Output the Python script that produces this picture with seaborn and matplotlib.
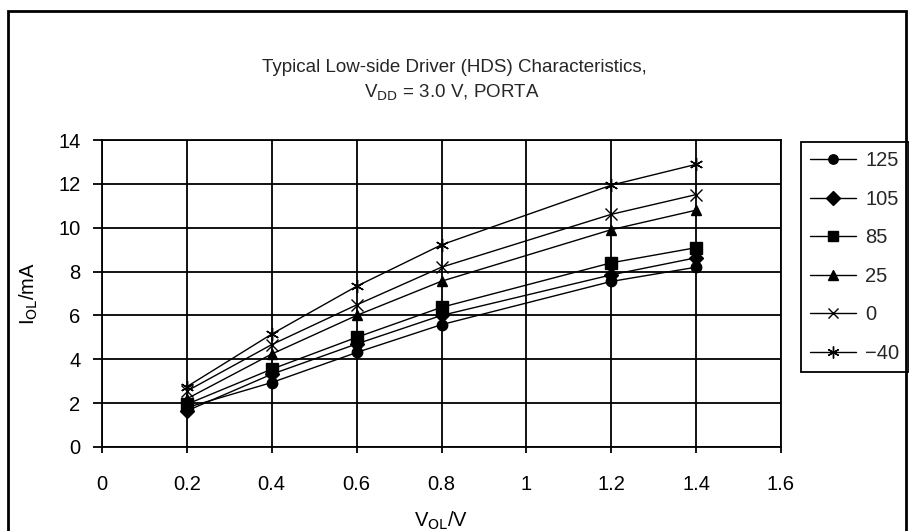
import numpy as np
import pandas as pd
import seaborn as sns
import matplotlib.pyplot as plt
from matplotlib.patches import Rectangle

# === Data ===
v_ol = [0.2, 0.4, 0.6, 0.8, 1.2, 1.4]
temps = ["125", "105", "85", "25", "0", "\u221240"]
i_125 = [1.80, 2.94, 4.31, 5.58, 7.55, 8.20]
i_105 = [1.65, 3.32, 4.70, 6.00, 7.85, 8.63]
i_85 = [1.95, 3.55, 5.00, 6.37, 8.40, 9.09]
i_25 = [2.20, 4.24, 6.00, 7.56, 9.91, 10.80]
i_0 = [2.55, 4.67, 6.48, 8.20, 10.61, 11.51]
i_m40 = [2.75, 5.15, 7.33, 9.22, 11.94, 12.89]

series = [i_125, i_105, i_85, i_25, i_0, i_m40]
df = pd.DataFrame({
    "V_OL": np.tile(v_ol, len(temps)),
    "I_OL": np.concatenate(series),
    "Temp": np.repeat(temps, len(v_ol)),
})

# === Style ===
sns.set_theme(style="white")
plt.rcParams["font.family"] = ["Liberation Sans", "DejaVu Sans"]
FS = 14.5

fig = plt.figure(figsize=(9.09, 5.31), dpi=100)
ax = fig.add_axes([102 / 909, 1 - 447 / 531, (781 - 102) / 909, (447 - 140) / 531])

markers = {"125": "o", "105": "D", "85": "s", "25": "^", "0": "x", "\u221240": (6, 2, 0)}
sizes = {"125": 7.5, "105": 7.5, "85": 8.5, "25": 7.5, "0": 8.5, "\u221240": 9.5}

# seaborn refuses to mix filled and line markers in one call, so one call per series
for t in temps:
    sns.lineplot(
        data=df[df["Temp"] == t], x="V_OL", y="I_OL", label=t,
        color="black", marker=markers[t], markersize=sizes[t],
        markeredgecolor="black", markeredgewidth=1.0,
        linewidth=1.0, ax=ax,
    )

# === Axes ===
ax.set_xlim(0, 1.6)
ax.set_ylim(0, 14)
ax.set_xticks(np.arange(0, 1.61, 0.2))
ax.set_xticklabels(["0", "0.2", "0.4", "0.6", "0.8", "1", "1.2", "1.4", "1.6"])
ax.set_yticks(np.arange(0, 15, 2))
ax.grid(True, color="black", linewidth=1.3)
for s in ax.spines.values():
    s.set_color("black")
    s.set_linewidth(1.3)
ax.tick_params(axis="both", direction="out", width=1.3, color="black",
               labelsize=FS, labelcolor="black", bottom=True, left=True)
ax.tick_params(axis="y", length=6.5, pad=9)
ax.tick_params(axis="x", length=4.5, pad=16)

ax.set_xlabel("V$_{\\mathrm{OL}}$/V", fontsize=FS, color="black", labelpad=11)
ax.set_ylabel("I$_{\\mathrm{OL}}$/mA", fontsize=FS, color="black", labelpad=13)

# === Title ===
title_font = ["Liberation Sans Narrow", "Liberation Sans", "DejaVu Sans"]
fig.text(0.5, 1 - 68 / 531, "Typical Low-side Driver (HDS) Characteristics,",
         ha="center", va="center", fontsize=13.5, family=title_font)
fig.text(0.497, 1 - 93 / 531, "V$_{\\mathrm{DD}}$ = 3.0 V, PORTA",
         ha="center", va="center", fontsize=13.5, family=title_font)

# === Legend ===
handles, labels = ax.get_legend_handles_labels()
leg = ax.legend(handles, labels, loc="upper left",
                bbox_to_anchor=(801 / 909, 1 - 142 / 531), bbox_transform=fig.transFigure,
                frameon=True, fancybox=False, fontsize=FS, handlelength=2.3,
                labelspacing=0.97, borderpad=0.45, handletextpad=0.45, borderaxespad=0,
                markerscale=0.9)
leg.get_frame().set_edgecolor("black")
leg.get_frame().set_linewidth(1.3)
leg.get_frame().set_facecolor("white")
leg.get_frame().set_alpha(1)

# === Outer frame ===
fig.patches.append(Rectangle((8 / 909, -0.05), (906 - 8) / 909, 1.05 - 11 / 531,
                             transform=fig.transFigure, fill=False,
                             edgecolor="black", linewidth=2))

fig.savefig("out.png", dpi=100)
